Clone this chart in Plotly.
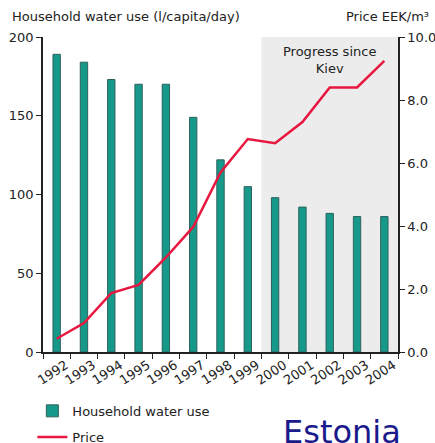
import plotly.graph_objects as go

years = ["1992", "1993", "1994", "1995", "1996", "1997", "1998", "1999",
         "2000", "2001", "2002", "2003", "2004"]
water_use = [189, 184, 173, 170, 170, 149, 122, 105, 98, 92, 88, 86, 86]
price = [0.42, 0.92, 1.87, 2.13, 3.0, 3.97, 5.7, 6.76, 6.63, 7.3, 8.4, 8.4, 9.24]

FONT = "DejaVu Sans"
TXT = "#222"

fig = go.Figure()
fig.add_trace(go.Bar(
    x=years, y=water_use, name="Household water use",
    marker=dict(color="#16998a", line=dict(color="#2d625c", width=1)),
    width=0.27, legend="legend",
))
fig.add_trace(go.Scatter(
    x=years, y=price, name="Price", yaxis="y2", mode="lines",
    line=dict(color="#e8173f", width=2.5), legend="legend2",
))

fig.add_shape(type="rect", xref="x", yref="paper", x0=7.5, x1=12.5, y0=0, y1=1,
              fillcolor="#ececec", line=dict(width=0), layer="below")

fig.add_annotation(x=10.0, xref="x", y=0.985, yref="paper", yanchor="top",
                   text="Progress since<br>Kiev", showarrow=False,
                   font=dict(family=FONT, size=13, color=TXT))
fig.add_annotation(x=-0.092, xref="paper", xanchor="left", y=1.0635, yref="paper",
                   yanchor="middle", text="Household water use (l/capita/day)",
                   showarrow=False, font=dict(family=FONT, size=13, color=TXT))
fig.add_annotation(x=1.093, xref="paper", xanchor="right", y=1.0635, yref="paper",
                   yanchor="middle", text="Price EEK/m³",
                   showarrow=False, font=dict(family=FONT, size=13, color=TXT))
fig.add_annotation(x=0.842, xref="paper", xanchor="center", y=-0.187, yref="paper",
                   yanchor="top", text="Estonia", showarrow=False,
                   font=dict(family=FONT, size=32, color="#1a1a8c"))

legend_common = dict(x=-0.03, xanchor="left", yanchor="middle",
                     font=dict(family=FONT, size=13, color=TXT),
                     bgcolor="rgba(0,0,0,0)")

fig.update_layout(
    width=435, height=443,
    margin=dict(l=43, r=37, t=37, b=91, autoexpand=False),
    plot_bgcolor="white", paper_bgcolor="white",
    font=dict(family=FONT, size=13, color=TXT),
    showlegend=True,
    legend=dict(y=-0.187, **legend_common),
    legend2=dict(y=-0.270, **legend_common),
    xaxis=dict(type="category", tickangle=-33, ticklabelshift=9, ticklabelstandoff=-1,
               showline=True, linecolor=TXT,
               linewidth=1.5, ticks="outside", tickson="boundaries", ticklen=5,
               tickcolor=TXT, showgrid=False, range=[-0.5, 12.5],
               tickfont=dict(size=13), automargin=False),
    yaxis=dict(range=[0, 200], tickvals=[0, 50, 100, 150, 200], showline=True,
               linecolor=TXT, linewidth=1.5, ticks="outside", ticklen=5,
               tickcolor=TXT, showgrid=False, zeroline=False, automargin=False),
    yaxis2=dict(range=[0, 10], tickvals=[0, 2, 4, 6, 8, 10], tickformat=".1f",
                overlaying="y", side="right", showline=True, linecolor=TXT,
                linewidth=1.5, ticks="outside", ticklen=5, tickcolor=TXT,
                showgrid=False, zeroline=False, automargin=False),
    bargap=0.7,
)

fig.write_html("out.html", config={"displayModeBar": False},
               post_script="document.body.style.margin='0';document.body.style.overflow='hidden';")
